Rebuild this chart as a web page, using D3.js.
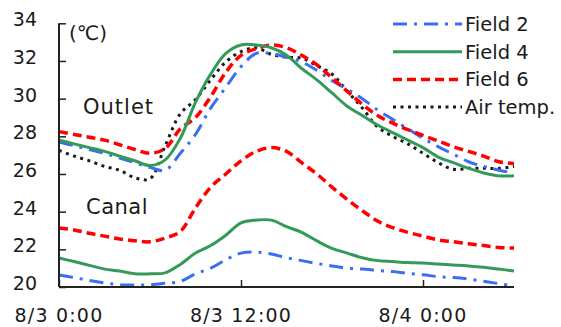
<!DOCTYPE html>
<html><head><meta charset="utf-8">
<script src="https://cdn.jsdelivr.net/npm/d3@7"></script>
<style>
html,body{margin:0;padding:0;background:#fff;}
svg{display:block;font-family:"DejaVu Sans",Verdana,sans-serif;}
</style></head>
<body>
<svg id="chart" width="561" height="327"></svg>
<script>
// ---- data ----
const hours = d3.range(0, 31); // hours since 8/3 0:00
const xTickHours = [0, 12, 24];
const xTickLabels = ["8/3 0:00", "8/3 12:00", "8/4 0:00"];
const yTicks = [20, 22, 24, 26, 28, 30, 32, 34];

const outletField2 = [27.7,27.5,27.3,27.1,26.85,26.6,26.35,26.2,27.1,28.1,29.5,30.6,31.7,32.4,32.4,32.2,31.95,31.5,30.95,30.5,30.0,29.4,28.9,28.4,27.9,27.45,27.05,26.65,26.4,26.2,26.05];
const outletField4 = [27.8,27.6,27.4,27.2,26.95,26.7,26.45,26.75,27.9,29.8,31.3,32.4,32.85,32.85,32.7,32.3,31.6,31.0,30.3,29.6,29.1,28.6,28.2,27.8,27.4,26.9,26.6,26.3,26.05,25.9,25.9];
const outletField6 = [28.25,28.1,27.95,27.8,27.55,27.3,27.1,27.35,28.4,29.0,30.1,31.4,32.3,32.65,32.85,32.7,32.3,31.8,31.1,30.4,29.7,29.1,28.7,28.35,28.05,27.75,27.45,27.2,26.95,26.65,26.55];
const airTemp      = [27.25,26.95,26.7,26.4,26.2,25.8,25.75,27.5,29.2,29.95,31.0,31.95,32.5,32.7,32.35,32.2,32.15,31.75,31.3,30.4,29.5,28.5,28.0,27.6,27.1,26.6,26.25,26.3,26.3,26.3,26.4];
const canalField2  = [20.64,20.5,20.35,20.22,20.12,20.1,20.12,20.2,20.3,20.7,21.0,21.45,21.8,21.85,21.75,21.55,21.4,21.25,21.12,21.0,20.95,20.88,20.82,20.72,20.65,20.55,20.5,20.42,20.3,20.18,20.05];
const canalField4  = [21.54,21.35,21.15,20.95,20.85,20.7,20.7,20.75,21.2,21.8,22.2,22.75,23.4,23.55,23.55,23.2,22.9,22.45,22.05,21.8,21.55,21.4,21.35,21.3,21.27,21.22,21.17,21.12,21.05,20.95,20.85];
const canalField6  = [23.13,23.03,22.85,22.7,22.55,22.45,22.4,22.6,22.95,24.2,25.3,26.0,26.7,27.2,27.4,27.2,26.6,26.0,25.3,24.65,24.05,23.5,23.15,22.9,22.7,22.5,22.4,22.3,22.2,22.1,22.07];

const legendNames = ["Field 2", "Field 4", "Field 6", "Air temp."];

// ---- styles ----
const styles = {
  "Field 2": {color:"#3b6ef0", width:3, dash:"14,7,3,7"},
  "Field 4": {color:"#349a5a", width:3, dash:null},
  "Field 6": {color:"#ff0000", width:3.5, dash:"9,5"},
  "Air temp.": {color:"#1a1a1a", width:3, dash:"3,4.5"}
};

const series = [
  {name:"Air temp.", values:airTemp},
  {name:"Field 2", values:outletField2},
  {name:"Field 6", values:outletField6},
  {name:"Field 4", values:outletField4},
  {name:"Field 2", values:canalField2},
  {name:"Field 6", values:canalField6},
  {name:"Field 4", values:canalField4}
];

const svg = d3.select("#chart");
const mLeft = 59, mRight = 514, mTop = 23.3, mBottom = 287;
const x = d3.scaleLinear().domain([0, 30]).range([mLeft, mRight]);
const y = d3.scaleLinear().domain([20, 34]).range([mBottom, mTop]);
const textColor = "#1a1a1a";

// lines
const line = d3.line().x((d,i)=>x(hours[i])).y(d=>y(d)).curve(d3.curveCatmullRom.alpha(0.5));
series.forEach(s=>{
  const st = styles[s.name];
  svg.append("path").datum(s.values)
    .attr("d", line).attr("fill","none")
    .attr("stroke", st.color).attr("stroke-width", st.width)
    .attr("stroke-dasharray", st.dash)
    .attr("stroke-linejoin","round");
});

// axes
const yAxis = d3.axisRight(y).tickValues(yTicks).tickSize(7).tickFormat("");
const gy = svg.append("g").attr("transform",`translate(${mLeft},0)`).call(yAxis);
gy.select(".domain").remove();
gy.selectAll(".tick line").attr("stroke","#222").attr("stroke-width",1.5);
svg.append("line").attr("x1",mLeft).attr("x2",mLeft).attr("y1",y(34)).attr("y2",mBottom)
  .attr("stroke","#222").attr("stroke-width",2);

const xAxis = d3.axisTop(x).tickValues(xTickHours).tickSize(7).tickFormat("");
const gx = svg.append("g").attr("transform",`translate(0,${mBottom})`).call(xAxis);
gx.select(".domain").remove();
gx.selectAll(".tick line").attr("stroke","#222").attr("stroke-width",1.5);
svg.append("line").attr("x1",mLeft).attr("x2",mRight).attr("y1",mBottom).attr("y2",mBottom)
  .attr("stroke","#222").attr("stroke-width",2);

// tick labels
svg.append("g").selectAll("text").data(yTicks).join("text")
  .attr("x", 37).attr("y", d=>y(d)+3)
  .attr("text-anchor","end").attr("font-size",19).attr("fill",textColor)
  .text(d=>d);
svg.append("g").selectAll("text").data(xTickHours).join("text")
  .attr("x", d=>x(d)).attr("y", 322)
  .attr("text-anchor","middle").attr("font-size",19).attr("letter-spacing",1.2).attr("fill",textColor)
  .text((d,i)=>xTickLabels[i]);

// annotations
svg.append("text").attr("x",69).attr("y",40).attr("font-size",20).attr("fill",textColor).text("(℃)");
svg.append("text").attr("x",83).attr("y",114).attr("font-size",21).attr("letter-spacing",1).attr("fill",textColor).text("Outlet");
svg.append("text").attr("x",86).attr("y",214).attr("font-size",21).attr("letter-spacing",0.5).attr("fill",textColor).text("Canal");

// legend
const lg = svg.append("g");
legendNames.forEach((n,i)=>{
  const st = styles[n];
  const cy = 24 + i*27.7;
  lg.append("line").attr("x1",393).attr("x2",462).attr("y1",cy).attr("y2",cy)
    .attr("stroke",st.color).attr("stroke-width",st.width).attr("stroke-dasharray",st.dash);
  lg.append("text").attr("x",465).attr("y",cy+7).attr("font-size",19.5).attr("fill",textColor).text(n);
});
</script>
</body></html>
